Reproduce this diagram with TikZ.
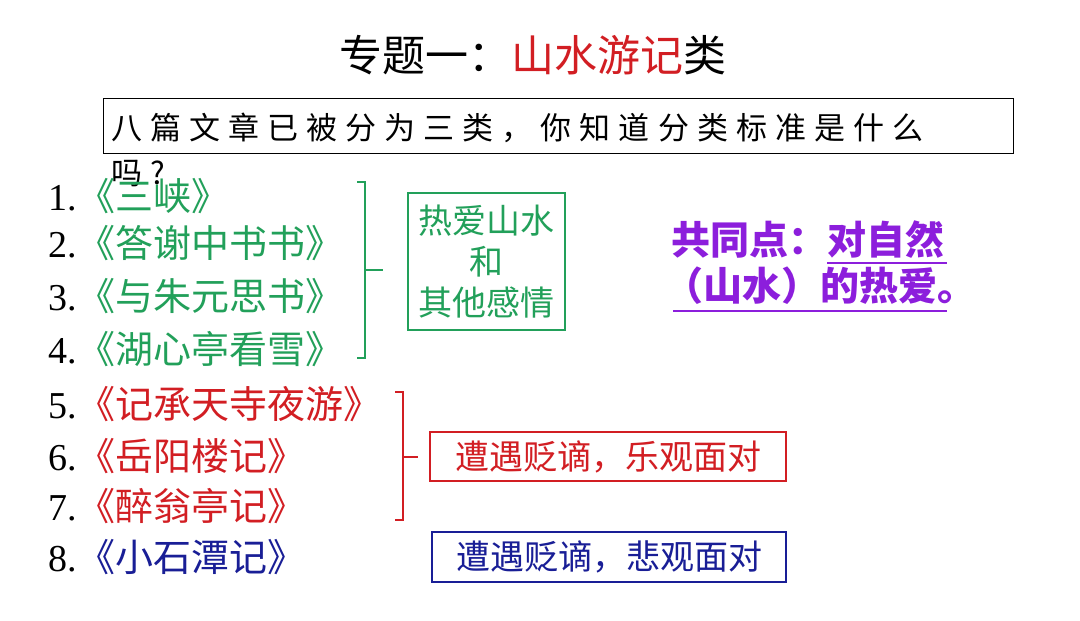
\documentclass[tikz,border=0pt]{standalone}
\usepackage{fontspec}
\setmainfont{Liberation Serif}
\newfontfamily\cjk{Noto Sans CJK SC}
\newfontfamily\cjkq{Noto Sans CJK SC}[LetterSpace=26]
\definecolor{tgreen}{RGB}{34,160,90}
\definecolor{tred}{RGB}{210,30,35}
\definecolor{tblue}{RGB}{25,30,150}
\definecolor{tpurple}{RGB}{140,30,220}
\newcommand{\fs}[1]{\fontsize{#1}{#1}\selectfont}
\begin{document}
\begin{tikzpicture}[x=1pt,y=-1pt,
  num/.style={anchor=base east, inner sep=0pt, font=\fs{38}},
  ttl/.style={anchor=base west, inner sep=0pt, font=\cjk\fs{38}},
  catbox/.style={draw, line width=1.2pt, inner sep=0pt, align=center, font=\cjk\fs{34}},
  brk/.style={line width=1.6pt}]
\useasboundingbox (0,0) rectangle (1080,621);
\fill[white] (0,0) rectangle (1080,621);
% title
\node[inner sep=0pt, font=\cjk\fs{43}] (title) at (533,55) {专题一：\textcolor{tred}{山水游记}类};
% question
\node[draw, line width=1pt, minimum width=910pt, minimum height=55pt, inner sep=0pt] (qbox) at (558,125.5) {};
\node[anchor=west, inner sep=0pt, font=\cjkq\fs{31}] (q1) at (111,128) {八篇文章已被分为三类，你知道分类标准是什么};
\node[anchor=west, inner sep=0pt, font=\cjkq\fs{31}] (q2) at (111,174) {吗?};
% list
\foreach \i/\y/\t/\c in {1/210/《三峡》/tgreen, 2/257/《答谢中书书》/tgreen, 3/310/《与朱元思书》/tgreen, 4/363/《湖心亭看雪》/tgreen,
  5/418/《记承天寺夜游》/tred, 6/470/《岳阳楼记》/tred, 7/520/《醉翁亭记》/tred, 8/571/《小石潭记》/tblue}{
  \node[num] (n\i) at (77,\y) {\i.};
  \node[ttl, text=\c] (t\i) at (77,\y) {\t};
}
% green group
\draw[brk, tgreen] (357,182) -- (365,182) -- (365,358) -- (357,358);
\draw[brk, tgreen] (365,270) -- (383,270);
\node[catbox, tgreen, minimum width=157pt, minimum height=137pt] (gbox) at (486.5,261.5) {热爱山水\\[7pt]和\\[7pt]其他感情};
% red group
\draw[brk, tred] (395,392) -- (403,392) -- (403,520) -- (395,520);
\draw[brk, tred] (403,457) -- (418,457);
\node[catbox, tred, minimum width=356pt, minimum height=49pt] (rbox) at (608,456.5) {遭遇贬谪，乐观面对};
% blue
\node[catbox, tblue, minimum width=354pt, minimum height=50pt] (bbox) at (609,557) {遭遇贬谪，悲观面对};
% purple
\node[anchor=west, inner sep=0pt, text=tpurple, font=\cjk\bfseries\fs{39}] (p1) at (671,240) {共同点：对自然};
\node[anchor=west, inner sep=0pt, text=tpurple, font=\cjk\bfseries\fs{39}] (p2) at (664,286) {（山水）的热爱。};
\draw[tpurple, line width=2pt] (827,263) -- (947,263);
\draw[tpurple, line width=2pt] (673,311) -- (947,311);
\end{tikzpicture}
\end{document}
